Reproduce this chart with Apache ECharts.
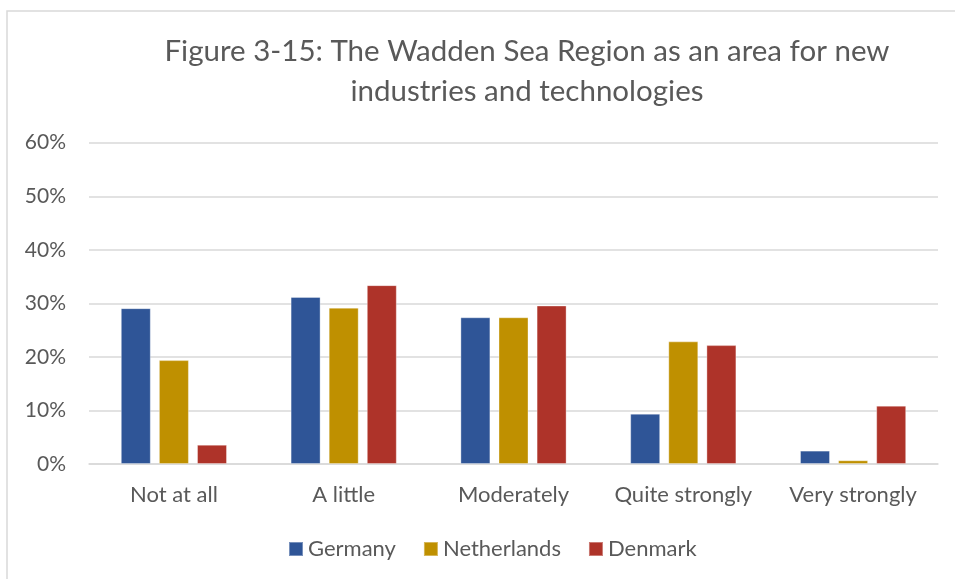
<!DOCTYPE html>
<html>
<head>
<meta charset="utf-8">
<script src="https://cdn.jsdelivr.net/npm/echarts@6/dist/echarts.min.js"></script>
<style>html,body{margin:0;padding:0;background:#fff;}#main{width:955px;height:579px;}</style>
</head>
<body>
<div id="main"></div>
<script>
const categories = ['Not at all', 'A little', 'Moderately', 'Quite strongly', 'Very strongly'];
const germany = [0.291, 0.312, 0.274, 0.094, 0.025];
const netherlands = [0.194, 0.292, 0.274, 0.229, 0.007];
const denmark = [0.036, 0.334, 0.296, 0.222, 0.109];
const yTicks = [0, 0.1, 0.2, 0.3, 0.4, 0.5, 0.6];

const FONT = 'Lato';
const chart = echarts.init(document.getElementById('main'), null, {renderer: 'canvas'});
const mk = (name, data, color) => ({
  name, type: 'bar', data, barWidth: 30, barGap: '27%',
  itemStyle: {color, borderColor: 'rgba(255,255,255,0.35)', borderWidth: 1},
  emphasis: {disabled: true}
});
chart.setOption({
  animation: false,
  textStyle: {fontFamily: FONT},
  graphic: [{type: 'rect', shape: {x: 7, y: 11, width: 1000, height: 700}, style: {fill: 'none', stroke: '#d9d9d9', lineWidth: 1.5}, z: 0}],
  title: {
    text: 'Figure 3-15: The Wadden Sea Region as an area for new\nindustries and technologies',
    left: 522, top: 26, textAlign: 'center',
    textStyle: {fontFamily: FONT, fontSize: 29.5, fontWeight: 'normal', color: '#595959', lineHeight: 40}
  },
  legend: {
    data: ['Germany', 'Netherlands', 'Denmark'],
    left: 283, top: 533, itemWidth: 14, itemHeight: 14, itemGap: 27,
    icon: 'rect',
    textStyle: {fontFamily: FONT, fontSize: 22, color: '#595959'}
  },
  grid: {left: 89, right: 17, top: 142.7, bottom: 115, containLabel: false},
  xAxis: {
    type: 'category', data: categories,
    axisLine: {lineStyle: {color: '#d9d9d9', width: 1.5}},
    axisTick: {show: false},
    axisLabel: {fontFamily: FONT, fontSize: 22, color: '#595959', margin: 20, interval: 0}
  },
  yAxis: {
    type: 'value', min: 0, max: 0.6, interval: 0.1,
    axisLine: {show: false}, axisTick: {show: false},
    splitLine: {lineStyle: {color: '#d9d9d9', width: 1.5}},
    axisLabel: {fontFamily: FONT, fontSize: 21, color: '#595959', margin: 23,
      formatter: v => Math.round(v * 100) + '%'}
  },
  series: [
    mk('Germany', germany, '#2F5597'),
    mk('Netherlands', netherlands, '#BF9000'),
    mk('Denmark', denmark, '#AE3329')
  ]
});
</script>
</body>
</html>
